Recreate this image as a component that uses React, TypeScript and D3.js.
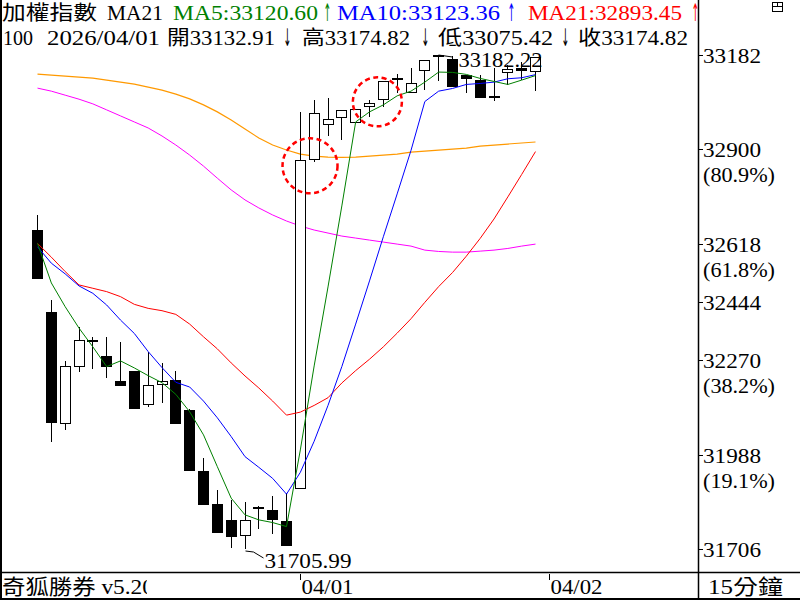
import React, { useEffect } from 'react';
import * as d3 from 'd3';

// ---- data (15-minute bars) ----
const opens = [32659, 32414, 32083, 32254, 32330, 32283, 32208, 32238, 32138, 32200, 32211, 32121, 31940, 31840, 31793, 31747, 31832, 31823, 31790, 31887, 32871, 32976, 32996, 32981, 33031, 33050, 33110, 33071, 33138, 33179, 33170, 33123, 33106, 33060, 33131, 33143, 33132.91];
const highs = [32704, 32450, 32268, 32370, 32340, 32340, 32323, 32238, 32294, 32261, 32238, 32125, 31978, 31882, 31852, 31846, 31834, 31864, 31874, 33013, 33048, 33053, 33018, 33020, 33048, 33105, 33125, 33143, 33168, 33182.22, 33178, 33123, 33123, 33143, 33153, 33161, 33174.82];
const lows = [32513, 32027, 32062, 32236, 32244, 32218, 32194, 32124, 32131, 32143, 32079, 31939, 31837, 31755, 31710, 31705.99, 31766, 31750, 31716, 31887, 32861, 32941, 32928, 32981, 32998, 33028, 33068, 33071, 33078, 33104, 33085, 33068, 33053, 33045, 33092, 33108, 33075.42];
const closes = [32513, 32083, 32253, 32330, 32324, 32251, 32194, 32124, 32196, 32208, 32079, 31939, 31837, 31755, 31743, 31793, 31828, 31793, 31716, 32868, 33008, 32991, 33018, 33020, 33040, 33105, 33112, 33097, 33168, 33182.22, 33085, 33110, 33053, 33058, 33140, 33135, 33174.82];

const ma5 = [32619, 32501, 32430, 32366, 32310, 32251, 32268, 32247, 32224, 32203, 32168, 32116, 32047, 31952, 31858, 31808, 31793, 31785, 31773, 32002, 32253, 32489, 32731, 32982, 33012, 33033, 33060, 33074, 33101, 33131, 33130, 33124, 33112, 33103, 33094, 33107, 33120.60];
const ma10 = [32609, 32560, 32528, 32492, 32470, 32435, 32390, 32350, 32296, 32248, 32204, 32190, 32148, 32098, 32042, 31982, 31950, 31917, 31870, 31935, 32028, 32135, 32251, 32378, 32507, 32639, 32767, 32897, 33043, 33074, 33082, 33094, 33097, 33101, 33111, 33114, 33123.36];
const ma21 = [32619, 32578, 32535, 32495, 32485, 32475, 32460, 32437, 32425, 32418, 32407, 32378, 32340, 32304, 32262, 32223, 32187, 32148, 32106, 32115, 32135, 32158, 32202, 32239, 32273, 32310, 32351, 32394, 32443, 32490, 32532, 32581, 32634, 32692, 32758, 32825, 32893.45];
const maOrange = [33125, 33122, 33119, 33116, 33113, 33107, 33101, 33095, 33086, 33077, 33065, 33051, 33033, 33012, 32988, 32961, 32934, 32913, 32898, 32886, 32880, 32877, 32876, 32877, 32880, 32883, 32886, 32892, 32895, 32898, 32901, 32904, 32910, 32913, 32916, 32919, 32922];
const maMagenta = [33083, 33074, 33062, 33050, 33036, 33018, 33000, 32982, 32964, 32940, 32913, 32883, 32850, 32814, 32779, 32749, 32725, 32704, 32686, 32671, 32659, 32650, 32641, 32635, 32629, 32623, 32617, 32611, 32599, 32595, 32593, 32593, 32596, 32599, 32604, 32611, 32617];

const yTicks = [33182, 32900, 32618, 32444, 32270, 31988, 31706];
const yTickPct = ['', '(80.9%)', '(61.8%)', '', '(38.2%)', '(19.1%)', ''];
const dateTickIdx = [19, 37];
const dateLabels = ['04/01', '04/02'];
const highIdx = 29;
const highLabel = '33182.22';
const lowIdx = 15;
const lowLabel = '31705.99';
const circleIdx = [19.7, 24.57];
const circleVal = [32851, 33042];

// header: text segments and their trailing arrows
const header1 = ['加權指數', 'MA21', 'MA5:33120.60', 'MA10:33123.36', 'MA21:32893.45'];
const header1Arrows = ['', '', '↑', '↑', '↑'];
const header2 = ['100', '2026/04/01', '開33132.91', '高33174.82', '低33075.42', '收33174.82'];
const header2Arrows = ['', '', '↓', '↓', '↓', ''];
const footerLeft = '奇狐勝券 v5.20';
const footerRight = '15分鐘';

// ---- layout ----
const FONT = "'Liberation Serif', 'Noto Sans CJK TC', serif";
const ARROW_FONT = "'DejaVu Sans', sans-serif";
const GREEN = '#008000', BLUE = '#0000ff', RED = '#ff0000', ORANGE = '#ff9900', MAGENTA = '#ff00ff';
const h1Layout = [
  { x: 2, w: 95, c: '#000', ax: 0 }, { x: 107, w: 56, c: '#000', ax: 0 },
  { x: 173, w: 145, c: GREEN, ax: 323.5 },
  { x: 337, w: 163, c: BLUE, ax: 507.5 },
  { x: 528, w: 154, c: RED, ax: 691.5 },
];
const h2Layout = [
  { x: 3, w: 30, ax: 0 }, { x: 47, w: 113, ax: 0 }, { x: 167, w: 108, ax: 283.5 },
  { x: 302, w: 108, ax: 421.5 }, { x: 438, w: 115, ax: 561.5 }, { x: 578, w: 110, ax: 0 },
];

export default function App() {
  useEffect(() => {
    document.body.style.margin = '0';
  }, []);

  const x = d3.scaleLinear().domain([0, 36]).range([37.5, 535.5]);
  const y = d3.scaleLinear().domain([31706, 33182]).range([549, 55]);
  const px = (i: number) => Math.floor(x(i)) + 0.5;

  const line = d3.line<number>().x((_, i) => x(i)).y((d) => y(d));

  const candles = opens.map((o, i) => {
    const c = closes[i];
    const cx = px(i);
    const up = c >= o;
    const top = Math.round(y(Math.max(o, c)));
    const bot = Math.round(y(Math.min(o, c)));
    const hTop = Math.round(y(highs[i]));
    const lBot = Math.round(y(lows[i]));
    return (
      <g key={i}>
        <line x1={cx} x2={cx} y1={hTop} y2={lBot} stroke="#000" strokeWidth={1} />
        {up ? (
          <rect x={cx - 5} y={top + 0.5} width={10} height={Math.max(1, bot - top)} fill="#fff" stroke="#000" strokeWidth={1} />
        ) : (
          <rect x={cx - 5.5} y={top} width={11} height={Math.max(2, bot - top)} fill="#000" />
        )}
      </g>
    );
  });

  const hx = px(highIdx), hy = Math.round(y(highs[highIdx]));
  const lx = px(lowIdx), ly = Math.round(y(lows[lowIdx])) + 2;

  const headerText = (t: string, arrow: string, key: string, lay: { x: number; w: number; ax: number }, yy: number, c: string) => (
    <g key={key}>
      <text x={lay.x} y={yy} fontSize={20} fill={c} textLength={lay.w} lengthAdjust="spacingAndGlyphs">{t}</text>
      {arrow && (
        <text transform={`translate(${lay.ax},${yy + 1}) scale(0.42,1.1)`} fontSize={22} fontFamily={ARROW_FONT} fill={c}>{arrow}</text>
      )}
    </g>
  );

  return (
    <svg width={800} height={600} style={{ position: 'absolute', left: 0, top: 0, display: 'block', background: '#fff' }} fontFamily={FONT}>
      <defs>
        <clipPath id="plot"><rect x={2} y={0} width={696} height={572} /></clipPath>
        <clipPath id="foot"><rect x={0} y={573} width={147} height={27} /></clipPath>
      </defs>
      <rect x={0} y={0} width={800} height={600} fill="#fff" />

      {/* header */}
      {header1.map((t, i) => headerText(t, header1Arrows[i], 'h1' + i, h1Layout[i], 20, h1Layout[i].c))}
      {header2.map((t, i) => headerText(t, header2Arrows[i], 'h2' + i, h2Layout[i], 45, '#000'))}

      <g clipPath="url(#plot)">
        {/* long MAs */}
        <path d={line(maMagenta) || ''} fill="none" stroke={MAGENTA} strokeWidth={1} />
        <path d={line(maOrange) || ''} fill="none" stroke={ORANGE} strokeWidth={1.2} />
        {candles}
        <path d={line(ma21) || ''} fill="none" stroke={RED} strokeWidth={1} />
        <path d={line(ma10) || ''} fill="none" stroke={BLUE} strokeWidth={1} />
        <path d={line(ma5) || ''} fill="none" stroke={GREEN} strokeWidth={1} />

        {/* high / low annotations */}
        <polyline points={`${hx},${hy} ${hx + 14},${hy + 2}`} fill="none" stroke="#000" strokeWidth={1} />
        <text x={hx + 20} y={hy + 12} fontSize={22} fill="#000" textLength={84} lengthAdjust="spacingAndGlyphs">{highLabel}</text>
        <polyline points={`${lx},${ly} ${lx + 8},${ly + 1} ${lx + 18},${ly + 7}`} fill="none" stroke="#000" strokeWidth={1} />
        <text x={lx + 19} y={ly + 17} fontSize={22} fill="#000" textLength={87} lengthAdjust="spacingAndGlyphs">{lowLabel}</text>

        {/* dashed circles */}
        {circleIdx.map((ci, k) => (
          <circle key={'c' + k} cx={x(ci)} cy={y(circleVal[k])} r={k === 0 ? 27.5 : 24.5} fill="none" stroke={RED} strokeWidth={2.5} strokeDasharray="5 3.5" />
        ))}
      </g>

      {/* right axis */}
      <line x1={698.5} x2={698.5} y1={0} y2={600} stroke="#000" strokeWidth={1.5} />
      {yTicks.map((t, k) => {
        const ty = Math.round(y(t)) + 0.5;
        return (
          <g key={'yt' + k}>
            <line x1={698} x2={703} y1={ty} y2={ty} stroke="#000" strokeWidth={1} />
            <text x={703} y={ty + 7} fontSize={20} fill="#000" textLength={58} lengthAdjust="spacingAndGlyphs">{String(t)}</text>
            {yTickPct[k] && (
              <text x={703} y={ty + 32} fontSize={20} fill="#000" textLength={72} lengthAdjust="spacingAndGlyphs">{yTickPct[k]}</text>
            )}
          </g>
        );
      })}

      {/* window icon */}
      <rect x={772.5} y={2.5} width={10} height={9} fill="#fff" stroke="#000" strokeWidth={1} />
      <line x1={772.5} x2={782.5} y1={6.5} y2={6.5} stroke="#000" strokeWidth={1} />
      <line x1={777.5} x2={777.5} y1={2.5} y2={6.5} stroke="#000" strokeWidth={1} />

      {/* bottom bar */}
      <line x1={0} x2={800} y1={572.5} y2={572.5} stroke="#000" strokeWidth={1.5} />
      <g clipPath="url(#foot)">
        <text x={2} y={594} fontSize={21} fill="#000" textLength={152} lengthAdjust="spacingAndGlyphs">{footerLeft}</text>
      </g>
      {dateTickIdx.map((di, k) => {
        const dx = Math.floor(x(di)) + 0.5;
        return (
          <g key={'d' + k}>
            <line x1={dx} x2={dx} y1={574} y2={580} stroke="#000" strokeWidth={1} />
            <text x={dx + 1} y={594} fontSize={21} fill="#000" textLength={52} lengthAdjust="spacingAndGlyphs">{dateLabels[k]}</text>
          </g>
        );
      })}
      <text x={708} y={594} fontSize={21} fill="#000" textLength={75} lengthAdjust="spacingAndGlyphs">{footerRight}</text>

      {/* frame */}
      <line x1={1} x2={1} y1={0} y2={600} stroke="#000" strokeWidth={2} />
      <line x1={0} x2={800} y1={599} y2={599} stroke="#000" strokeWidth={2} />
    </svg>
  );
}
